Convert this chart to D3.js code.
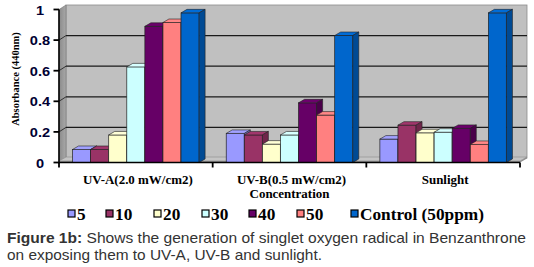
<!DOCTYPE html>
<html><head><meta charset="utf-8">
<script src="https://cdn.jsdelivr.net/npm/d3@7"></script>
<style>body{margin:0;background:#fff}svg{display:block}</style>
</head><body>
<svg id="c" width="534" height="267"></svg>
<script>
const categories = ["UV-A(2.0 mW/cm2)", "UV-B(0.5 mW/cm2)", "Sunlight"];
const seriesNames = ["5", "10", "20", "30", "40", "50", "Control (50ppm)"];
const s5 = [0.085, 0.19, 0.153];
const s10 = [0.085, 0.18, 0.244];
const s20 = [0.18, 0.12, 0.194];
const s30 = [0.625, 0.18, 0.198];
const s40 = [0.89, 0.39, 0.223];
const s50 = [0.915, 0.31, 0.118];
const sControl = [0.978, 0.83, 0.978];
const yTicks = [0, 0.2, 0.4, 0.6, 0.8, 1];
const yTickLabels = ["0", "0.2", "0.4", "0.6", "0.8", "1"];
const colors = ["#9999FF", "#993366", "#FFFFCC", "#CCFFFF", "#660066", "#FF8080", "#0066CC"];

const series = [s5, s10, s20, s30, s40, s50, sControl];
const svg = d3.select("#c");
const L = 59, R = 520, Y0 = 162.5, Y1 = 9.5;
const WDX = 7, WDY = 4.5;   // wall depth
const BDX = 6, BDY = 3.5;   // bar depth
const SX = 1.08;            // horizontal stretch of text
const serif = "'Times New Roman', 'Liberation Serif', serif";
const sans = "Arial, 'Liberation Sans', sans-serif";

const y = d3.scaleLinear().domain([0, 1]).range([Y0, Y1]);
const x0 = d3.scaleBand().domain(categories).range([L, R]).padding(0);
const x1 = d3.scaleBand().domain(seriesNames).range([0, x0.bandwidth()]).paddingInner(0).paddingOuter(0.75);

const defs = svg.append("defs");
const lg = defs.append("linearGradient").attr("id", "lw").attr("x1", 0).attr("x2", 1).attr("y1", 0).attr("y2", 0);
lg.append("stop").attr("offset", 0).attr("stop-color", "#8a8a8a");
lg.append("stop").attr("offset", 1).attr("stop-color", "#a8a8a8");

// back wall
svg.append("rect").attr("x", L + WDX).attr("y", y(1) - WDY).attr("width", R - L).attr("height", Y0 - y(1))
  .attr("fill", "#C0C0C0").attr("stroke", "#8c8c8c").attr("stroke-width", 0.8);
// left wall
svg.append("polygon").attr("points", [[L, y(1)], [L + WDX, y(1) - WDY], [L + WDX, Y0 - WDY], [L, Y0]].join(" "))
  .attr("fill", "url(#lw)").attr("stroke", "#777").attr("stroke-width", 0.6);
// gridlines on back wall
svg.append("g").selectAll("line").data(yTicks.slice(1, -1)).join("line")
  .attr("x1", L + WDX).attr("x2", R + WDX).attr("y1", d => y(d) - WDY).attr("y2", d => y(d) - WDY)
  .attr("stroke", "#1a1a1a").attr("stroke-width", 1.2);
// gridline on left wall
svg.append("g").selectAll("line").data(yTicks.slice(1, -1)).join("line")
  .attr("x1", L).attr("x2", L + WDX).attr("y1", d => y(d)).attr("y2", d => y(d) - WDY)
  .attr("stroke", "#333").attr("stroke-width", 1);
// floor
svg.append("polygon").attr("points", [[L, Y0 - 1.5], [L + WDX, Y0 - WDY - 1], [R + WDX, Y0 - WDY - 1], [R, Y0 - 1.5]].join(" "))
  .attr("fill", "#c4c4c4").attr("stroke", "#8c8c8c").attr("stroke-width", 0.6);
svg.append("polygon").attr("points", [[L, Y0 - 1.5], [R, Y0 - 1.5], [R + WDX, Y0 - WDY - 1], [R + WDX, Y0 - WDY + 0.5], [R, Y0], [L, Y0]].join(" "))
  .attr("fill", "#8e8e8e");

// bars
function shade(c, k) { return d3.color(c).darker(k).formatHex(); }
categories.forEach((cat, ci) => {
  const g = svg.append("g");
  seriesNames.forEach((sn, si) => {
    const v = series[si][ci];
    const bx = x0(cat) + x1(sn), bw = x1.bandwidth(), yt = y(v), yb = y(0);
    const c = colors[si];
    g.append("rect").attr("x", bx).attr("y", yt).attr("width", bw).attr("height", yb - yt)
      .attr("fill", c).attr("stroke", "#222").attr("stroke-width", 0.7);
    g.append("polygon").attr("points", [[bx, yt], [bx + BDX, yt - BDY], [bx + bw + BDX, yt - BDY], [bx + bw, yt]].join(" "))
      .attr("fill", d3.color(c).brighter(0.15).formatHex()).attr("stroke", "#222").attr("stroke-width", 0.6);
    g.append("polygon").attr("points", [[bx + bw, yt], [bx + bw + BDX, yt - BDY], [bx + bw + BDX, yb - BDY], [bx + bw, yb]].join(" "))
      .attr("fill", shade(c, 0.9)).attr("stroke", "#222").attr("stroke-width", 0.6);
  });
});

// axes
svg.append("line").attr("x1", L).attr("x2", L).attr("y1", y(1)).attr("y2", Y0 + 1).attr("stroke", "#000").attr("stroke-width", 1.6);
svg.append("line").attr("x1", L).attr("x2", R).attr("y1", Y0).attr("y2", Y0).attr("stroke", "#000").attr("stroke-width", 1.6);
svg.append("g").selectAll("line").data(yTicks).join("line")
  .attr("x1", L - 5.5).attr("x2", L).attr("y1", d => y(d)).attr("y2", d => y(d)).attr("stroke", "#000").attr("stroke-width", 1.8);
const catTicks = categories.map(c => x0(c)).concat([R]);
svg.append("g").selectAll("line").data(catTicks).join("line")
  .attr("x1", d => d).attr("x2", d => d).attr("y1", Y0).attr("y2", Y0 + 5).attr("stroke", "#000").attr("stroke-width", 1.8);

// y tick labels
svg.append("g").selectAll("text").data(yTicks).join("text")
  .attr("transform", d => `translate(40,${y(d) + 5}) scale(${SX},1)`).attr("text-anchor", "middle")
  .attr("font-family", sans).attr("font-weight", "bold").attr("font-size", 13.5)
  .attr("fill", "#000033").text((d, i) => yTickLabels[i]);

// y axis title
svg.append("text").attr("transform", "translate(19,79) rotate(-90)").attr("text-anchor", "middle")
  .attr("font-family", serif).attr("font-weight", "bold").attr("font-size", 10.5)
  .attr("fill", "#000").text("Absorbance (440nm)");

// category labels
svg.append("g").selectAll("text").data(categories).join("text")
  .attr("transform", d => `translate(${x0(d) + x0.bandwidth() / 2 + 2},184) scale(${SX},1)`).attr("text-anchor", "middle")
  .attr("font-family", serif).attr("font-weight", "bold").attr("font-size", 12)
  .attr("fill", "#000").text(d => d);
svg.append("text").attr("transform", `translate(${x0(categories[1]) + x0.bandwidth() / 2},198) scale(${SX},1)`).attr("text-anchor", "middle")
  .attr("font-family", serif).attr("font-weight", "bold").attr("font-size", 12)
  .attr("fill", "#000").text("Concentration");

// legend
const legX = [68, 106, 154, 202, 249, 297, 351];
const leg = svg.append("g");
seriesNames.forEach((sn, i) => {
  leg.append("rect").attr("x", legX[i]).attr("y", 210).attr("width", 7).attr("height", 7)
    .attr("fill", colors[i]).attr("stroke", "#000").attr("stroke-width", 1.2);
  leg.append("text").attr("transform", `translate(${legX[i] + 9},219.5) scale(${SX},1)`)
    .attr("font-family", serif).attr("font-weight", "bold").attr("font-size", 16)
    .attr("fill", "#000").text(sn);
});

// caption
const cap = svg.append("text").attr("x", 7).attr("y", 243).attr("textLength", 519).attr("lengthAdjust", "spacingAndGlyphs")
  .attr("font-family", sans).attr("font-size", 14.5).attr("fill", "#333");
cap.append("tspan").attr("font-weight", "bold").text("Figure 1b:");
cap.append("tspan").text(" Shows the generation of singlet oxygen radical in Benzanthrone");
svg.append("text").attr("x", 7).attr("y", 260).attr("textLength", 315).attr("lengthAdjust", "spacingAndGlyphs")
  .attr("font-family", sans).attr("font-size", 14.5).attr("fill", "#333")
  .text("on exposing them to UV-A, UV-B and sunlight.");
</script>
</body></html>
